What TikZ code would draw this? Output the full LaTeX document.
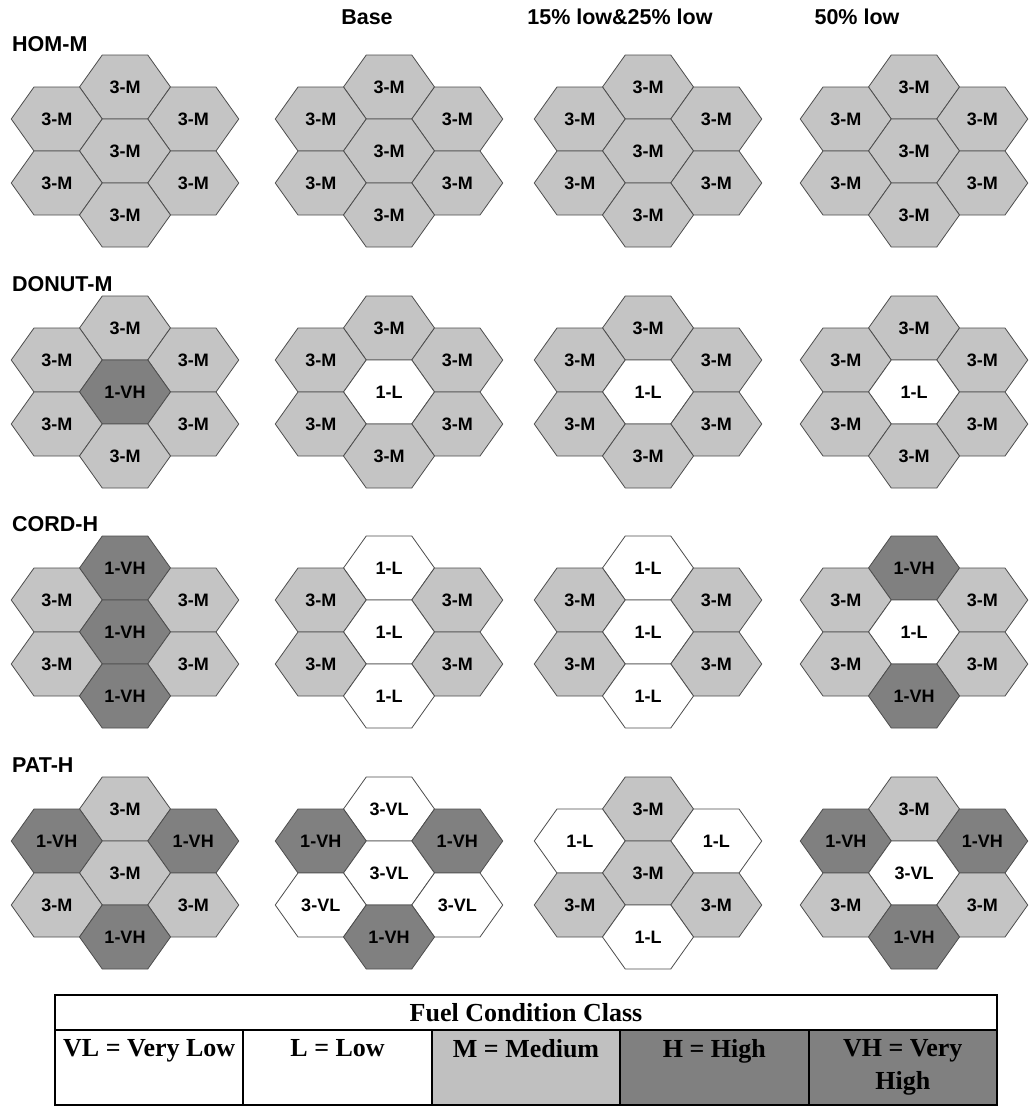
\documentclass[tikz,border=0pt]{standalone}
\usepackage{fontspec}
\setmainfont{Liberation Serif}
\setsansfont{Liberation Sans}
\usepackage{tikz}
\usetikzlibrary{positioning}
\definecolor{fuelmid}{HTML}{C4C4C4}
\definecolor{fueldark}{HTML}{808080}
\definecolor{hexline}{HTML}{4D4D4D}
\definecolor{keymid}{HTML}{C0C0C0}
\tikzset{
  hexcell/.style={draw=hexline,line width=0.8pt},
  c-M/.style={hexcell,fill=fuelmid},
  c-VH/.style={hexcell,fill=fueldark},
  c-L/.style={hexcell,fill=white},
  c-VL/.style={hexcell,fill=white},
  hexlabel/.style={font=\sffamily\bfseries\fontsize{18}{18}\selectfont,inner sep=0pt},
  colhead/.style={font=\sffamily\bfseries\fontsize{21.5}{21.5}\selectfont,inner sep=0pt},
  rowhead/.style={colhead,anchor=west},
  keycell/.style={draw=black,line width=2pt,outer sep=0pt,inner sep=3pt,minimum width=188.4,minimum height=75,align=center,font=\rmfamily\bfseries\fontsize{26}{33}\selectfont},
}

\begin{document}
\begin{tikzpicture}[x=1pt,y=-1pt]
  \useasboundingbox (0,0) rectangle (1030,1106);
  \node[colhead] (base) at (367,17) {Base};
  \node[colhead] (low1) at (620,17) {15\% low\&25\% low};
  \node[colhead] (low2) at (857,17) {50\% low};
  \foreach \rowname/\y [count=\r] in {HOM-M/44,DONUT-M/284,CORD-H/524,PAT-H/765}
    \node[rowhead] (row\r) at (12,\y) {\rowname};
  \foreach \cx/\cy/\cells [count=\c] in {
    125/151/{3/M,3/M,3/M,3/M,3/M,3/M,3/M},
    389/151/{3/M,3/M,3/M,3/M,3/M,3/M,3/M},
    648/151/{3/M,3/M,3/M,3/M,3/M,3/M,3/M},
    914/151/{3/M,3/M,3/M,3/M,3/M,3/M,3/M},
    125/392/{3/M,3/M,3/M,1/VH,3/M,3/M,3/M},
    389/392/{3/M,3/M,3/M,1/L,3/M,3/M,3/M},
    648/392/{3/M,3/M,3/M,1/L,3/M,3/M,3/M},
    914/392/{3/M,3/M,3/M,1/L,3/M,3/M,3/M},
    125/632/{1/VH,3/M,3/M,1/VH,3/M,3/M,1/VH},
    389/632/{1/L,3/M,3/M,1/L,3/M,3/M,1/L},
    648/632/{1/L,3/M,3/M,1/L,3/M,3/M,1/L},
    914/632/{1/VH,3/M,3/M,1/L,3/M,3/M,1/VH},
    125/873/{3/M,1/VH,1/VH,3/M,3/M,3/M,1/VH},
    389/873/{3/VL,1/VH,1/VH,3/VL,3/VL,3/VL,1/VH},
    648/873/{3/M,1/L,1/L,3/M,3/M,3/M,1/L},
    914/873/{3/M,1/VH,1/VH,3/VL,3/M,3/M,1/VH}}{
    \foreach \n/\k [count=\i] in \cells {
      \pgfmathsetmacro\dx{{0,-68.25,68.25,0,-68.25,68.25,0}[\i-1]}
      \pgfmathsetmacro\dy{{-64,-32,-32,0,32,32,64}[\i-1]}
      \pgfmathsetmacro\x{\cx+\dx}
      \pgfmathsetmacro\y{\cy+\dy}
      \path[c-\k] (\x-45.5,\y) -- (\x-22.75,\y-32) -- (\x+22.75,\y-32) -- (\x+45.5,\y) -- (\x+22.75,\y+32) -- (\x-22.75,\y+32) -- cycle;
      \node[hexlabel] (h\c-\i) at (\x,\y) {\n-\k};
    }
  }
  \node[keycell,minimum width=942,minimum height=35,inner sep=0pt,anchor=north west,font=\rmfamily\bfseries\fontsize{26}{26}\selectfont] (key) at (55,995) {Fuel Condition Class};
  \node[keycell,anchor=north west] (vl) at (key.south west) {VL = Very Low\\\vphantom{High}};
  \node[keycell,right=0pt of vl] (lo) {L = Low\\\vphantom{High}};
  \node[keycell,right=0pt of lo,fill=keymid] (me) {M = Medium\\\vphantom{High}};
  \node[keycell,right=0pt of me,fill=fueldark] (hi) {H = High\\\vphantom{High}};
  \node[keycell,right=0pt of hi,fill=fueldark] (vh) {VH = Very\\High};
\end{tikzpicture}
\end{document}
